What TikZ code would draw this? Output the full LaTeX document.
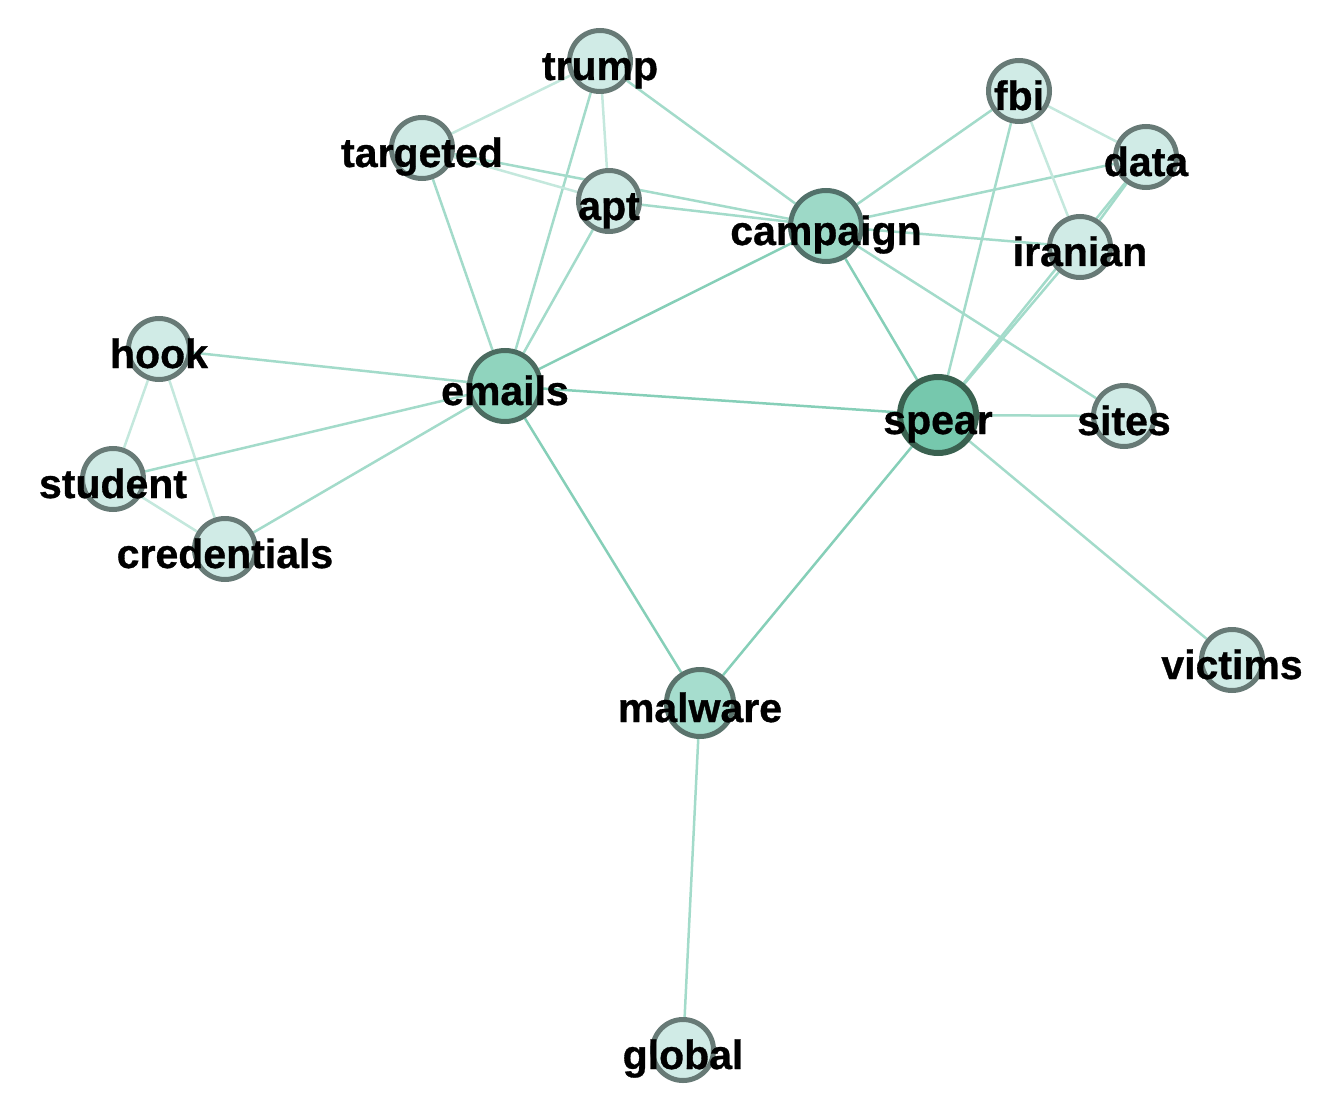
\documentclass[tikz,border=0pt]{standalone}
\usepackage{fontspec}
\setmainfont{Liberation Sans}
\newfontfamily\wordfont{Liberation Sans Bold}[FakeBold=0.8]
\usetikzlibrary{backgrounds}

\definecolor{termfill}{HTML}{D0EBE6}
\definecolor{termline}{HTML}{677A76}
\definecolor{campfill}{HTML}{9DD9C7}
\definecolor{campline}{HTML}{52716A}
\definecolor{mailfill}{HTML}{90D4BE}
\definecolor{mailline}{HTML}{4B6B60}
\definecolor{spearfill}{HTML}{76C8AD}
\definecolor{spearline}{HTML}{3A6150}
\definecolor{malfill}{HTML}{A6DDCE}
\definecolor{malline}{HTML}{5A736C}
\definecolor{linkstrong}{HTML}{86CFB8}
\definecolor{linkmid}{HTML}{A3DBCA}
\definecolor{linkweak}{HTML}{C4E8DD}

\tikzset{
  term/.style={circle, draw=termline, fill=termfill, line width=2.5pt, minimum size=30.5pt, inner sep=0pt},
  word/.style={font=\wordfont\fontsize{20.5}{24}\selectfont, anchor=base, inner sep=0pt},
  link/.style={draw=linkmid, line width=1.25pt},
  strong link/.style={link, draw=linkstrong},
  weak link/.style={link, draw=linkweak}
}

\begin{document}
\begin{tikzpicture}[x=0.5pt, y=-0.5pt]
  \useasboundingbox (0,0) rectangle (1320,1112);

  % terms
  \node[term] (trump) at (600,61) {};
  \node[term] (targeted) at (422,148) {};
  \node[term] (apt) at (609,201) {};
  \node[term, draw=campline, fill=campfill, minimum size=35.5pt] (campaign) at (826,226) {};
  \node[term] (fbi) at (1019,91) {};
  \node[term] (data) at (1146,157) {};
  \node[term] (iranian) at (1080,247) {};
  \node[term] (hook) at (159,349) {};
  \node[term, draw=mailline, fill=mailfill, minimum size=35.5pt] (emails) at (505,386) {};
  \node[term, draw=spearline, fill=spearfill, line width=3pt, minimum size=38pt] (spear) at (938,415) {};
  \node[term] (sites) at (1124,416) {};
  \node[term] (student) at (113,479) {};
  \node[term] (credentials) at (225,549) {};
  \node[term, draw=malline, fill=malfill, minimum size=33.5pt] (malware) at (700,703) {};
  \node[term] (victims) at (1232,660) {};
  \node[term] (global) at (683,1050) {};

  % links
  \begin{scope}[on background layer]
    \draw[weak link] (trump) -- (targeted);
    \draw[weak link] (trump) -- (apt);
    \draw[link] (trump) -- (emails);
    \draw[link] (trump) -- (campaign);
    \draw[weak link] (targeted) -- (apt);
    \draw[link] (targeted) -- (campaign);
    \draw[link] (targeted) -- (emails);
    \draw[link] (apt) -- (campaign);
    \draw[link] (apt) -- (emails);
    \draw[link] (campaign) -- (fbi);
    \draw[link] (campaign) -- (data);
    \draw[link] (campaign) -- (iranian);
    \draw[strong link] (campaign) -- (emails);
    \draw[strong link] (campaign) -- (spear);
    \draw[link] (campaign) -- (sites);
    \draw[weak link] (fbi) -- (data);
    \draw[weak link] (fbi) -- (iranian);
    \draw[link] (fbi) -- (spear);
    \draw[link] (data) -- (spear);
    \draw[link] (data) -- (iranian);
    \draw[link] (iranian) -- (spear);
    \draw[link] (hook) -- (emails);
    \draw[weak link] (hook) -- (student);
    \draw[weak link] (hook) -- (credentials);
    \draw[link] (student) -- (emails);
    \draw[weak link] (student) -- (credentials);
    \draw[link] (credentials) -- (emails);
    \draw[strong link] (emails) -- (spear);
    \draw[strong link] (emails) -- (malware);
    \draw[link] (spear) -- (sites);
    \draw[strong link] (spear) -- (malware);
    \draw[link] (spear) -- (victims);
    \draw[link] (malware) -- (global);
  \end{scope}

  % labels
  \node[word] (trump-w) at ([yshift=-9.5pt]trump.center) {trump};
  \node[word] (targeted-w) at ([yshift=-9.5pt]targeted.center) {targeted};
  \node[word] (apt-w) at ([yshift=-9.5pt]apt.center) {apt};
  \node[word] (campaign-w) at ([yshift=-9.5pt]campaign.center) {campaign};
  \node[word] (fbi-w) at ([yshift=-9.5pt]fbi.center) {fbi};
  \node[word] (data-w) at ([yshift=-9.5pt]data.center) {data};
  \node[word] (iranian-w) at ([yshift=-9.5pt]iranian.center) {iranian};
  \node[word] (hook-w) at ([yshift=-9.5pt]hook.center) {hook};
  \node[word] (emails-w) at ([yshift=-9.5pt]emails.center) {emails};
  \node[word] (spear-w) at ([yshift=-9.5pt]spear.center) {spear};
  \node[word] (sites-w) at ([yshift=-9.5pt]sites.center) {sites};
  \node[word] (student-w) at ([yshift=-9.5pt]student.center) {student};
  \node[word] (credentials-w) at ([yshift=-9.5pt]credentials.center) {credentials};
  \node[word] (malware-w) at ([yshift=-9.5pt]malware.center) {malware};
  \node[word] (victims-w) at ([yshift=-9.5pt]victims.center) {victims};
  \node[word] (global-w) at ([yshift=-9.5pt]global.center) {global};
\end{tikzpicture}
\end{document}
